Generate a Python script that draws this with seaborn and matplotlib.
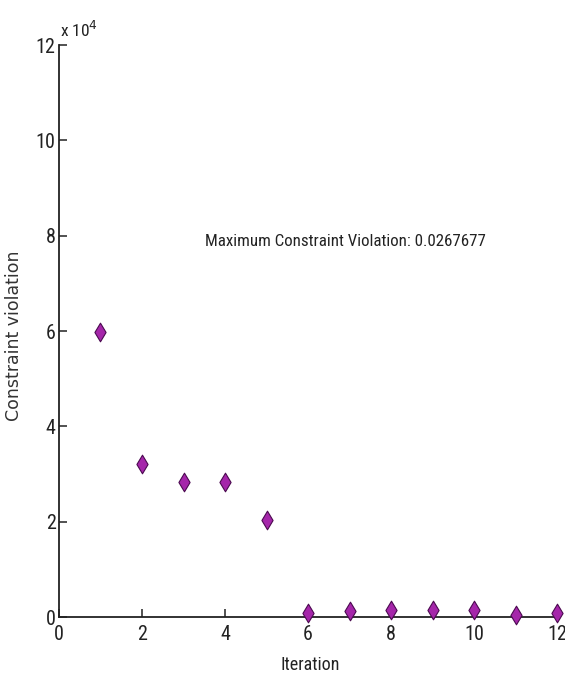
import matplotlib
matplotlib.use("Agg")
import matplotlib.pyplot as plt
import matplotlib.ticker as mticker
from matplotlib import font_manager
import seaborn as sns
import pandas as pd

# Constraint violation recorded at each solver iteration
iterations = [1, 2, 3, 4, 5, 6, 7, 8, 9, 10, 11, 12]
violation = [59800, 32000, 28400, 28400, 20400, 900, 1300, 1500, 1500, 1500, 400, 900]
x_ticks = [0, 2, 4, 6, 8, 10, 12]
y_ticks = [0, 20000, 40000, 60000, 80000, 100000, 120000]
annotation = "Maximum Constraint Violation: 0.0267677"

df = pd.DataFrame({"Iteration": iterations, "Constraint violation": violation})

sns.set_style("ticks")
installed = {f.name for f in font_manager.fontManager.ttflist}
narrow = [f for f in ["Roboto Condensed", "Liberation Sans Narrow", "Arial Narrow",
                      "Liberation Sans"] if f in installed] + ["DejaVu Sans"]
plt.rcParams["font.family"] = narrow

fig = plt.figure(figsize=(5.65, 6.77), dpi=100)
ax = fig.add_axes([0.1044, 0.0886, 0.8816, 0.8449])

sns.scatterplot(data=df, x="Iteration", y="Constraint violation", ax=ax,
                marker="d", s=90, color="#A526AA", edgecolor="#4b0a50",
                linewidth=0.8, clip_on=False, zorder=5, legend=False)

ax.set_xlim(0, 12)
ax.set_ylim(0, 120000)
ax.set_xticks(x_ticks)
ax.set_yticks(y_ticks)
ax.yaxis.set_major_formatter(mticker.FuncFormatter(lambda v, p: f"{v / 1e4:g}"))
sns.despine(ax=ax)
for side in ("left", "bottom"):
    ax.spines[side].set_linewidth(1.3)
    ax.spines[side].set_color("#222222")
ax.tick_params(direction="in", length=6, width=1.1, color="#222222",
               labelsize=14.5, labelcolor="#222222")
ax.tick_params(axis="x", pad=6)
ax.tick_params(axis="y", pad=2.5)

ax.set_xlabel("Iteration", fontsize=13, color="#222222")
ax.xaxis.set_label_coords(0.504, -0.068)
ax.set_ylabel("Constraint violation", fontsize=12.5, color="#333333",
              family=["DejaVu Sans"])
ax.yaxis.set_label_coords(-0.072, 0.491)

ax.text(0.002, 1.008, r"x 10$^{4}$", transform=ax.transAxes, fontsize=12.5,
        color="#222222", ha="left", va="bottom")
ax.text(3.52, 78700, annotation, fontsize=12.2, color="#222222",
        ha="left", va="center")

fig.savefig("out.png", dpi=100)
